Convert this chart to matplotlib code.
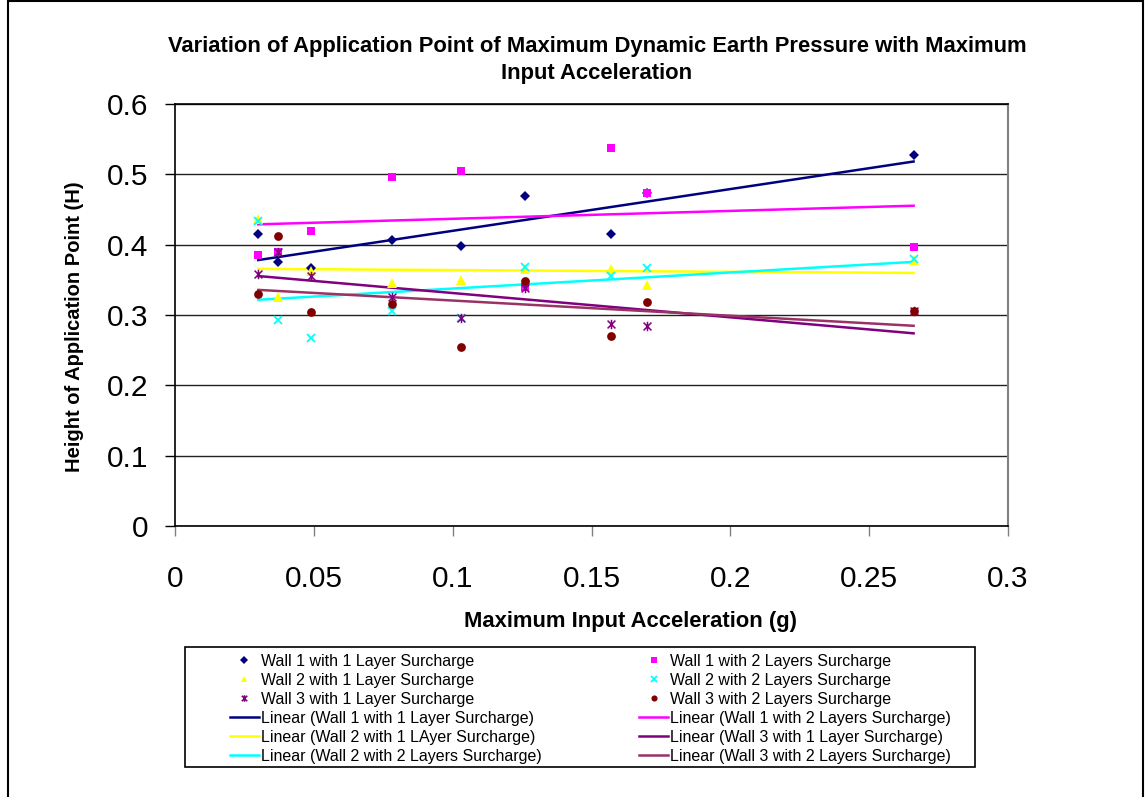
import numpy as np
import matplotlib
matplotlib.use("Agg")
import matplotlib.pyplot as plt
from matplotlib.patches import Rectangle
from matplotlib.path import Path

plt.rcParams['font.family'] = ['Liberation Sans', 'DejaVu Sans']

# Maximum input acceleration (g) shared by every test series
accel = [0.030, 0.037, 0.049, 0.078, 0.103, 0.126, 0.157, 0.170, 0.266]

# Height of application point (fraction of H)
wall1_1layer = [0.415, 0.375, 0.367, 0.406, 0.398, 0.469, 0.415, 0.474, 0.527]
wall1_2layer = [0.385, 0.390, 0.420, 0.496, 0.505, 0.340, 0.538, 0.474, 0.396]
wall2_1layer = [0.436, 0.326, 0.362, 0.346, 0.350, 0.365, 0.366, 0.343, 0.378]
wall2_2layer = [0.433, 0.293, 0.268, 0.305, 0.296, 0.368, 0.356, 0.367, 0.379]
wall3_1layer = [0.359, 0.390, 0.355, 0.326, 0.296, 0.338, 0.287, 0.284, 0.306]
wall3_2layer = [0.330, 0.413, 0.304, 0.315, 0.255, 0.349, 0.270, 0.318, 0.306]

x_ticks = [0, 0.05, 0.1, 0.15, 0.2, 0.25, 0.3]
x_tick_labels = ["0", "0.05", "0.1", "0.15", "0.2", "0.25", "0.3"]
y_ticks = [0, 0.1, 0.2, 0.3, 0.4, 0.5, 0.6]
y_tick_labels = ["0", "0.1", "0.2", "0.3", "0.4", "0.5", "0.6"]

W, H = 1146, 797
fig = plt.figure(figsize=(W / 100, H / 100), dpi=100)

def fx(px):
    return px / W

def fy(py):
    return 1 - py / H

# outer chart frame
fig.patches.append(Rectangle((fx(8), fy(900)), fx(1143) - fx(8), fy(1) - fy(900),
                             transform=fig.transFigure, fill=False,
                             edgecolor='black', linewidth=1.5, zorder=0))

ax = fig.add_axes([fx(175), fy(526), fx(1008) - fx(175), fy(104) - fy(526)])

# star marker: an "x" crossed by a vertical bar
star = Path([(-1, -1), (1, 1), (-1, 1), (1, -1), (0, -1.2), (0, 1.2)],
            [Path.MOVETO, Path.LINETO, Path.MOVETO, Path.LINETO, Path.MOVETO, Path.LINETO])

series = [
    ("Wall 1 with 1 Layer Surcharge", wall1_1layer, dict(marker='D', color='#000080', ms=5.3),
     "Linear (Wall 1 with 1 Layer Surcharge)", '#000080'),
    ("Wall 1 with 2 Layers Surcharge", wall1_2layer, dict(marker='s', color='#FF00FF', ms=5.8),
     "Linear (Wall 1 with 2 Layers Surcharge)", '#FF00FF'),
    ("Wall 2 with 1 Layer Surcharge", wall2_1layer, dict(marker='^', color='#FFFF00', ms=7),
     "Linear (Wall 2 with 1 LAyer Surcharge)", '#FFFF00'),
    ("Wall 2 with 2 Layers Surcharge", wall2_2layer, dict(marker='x', color='#00FFFF', ms=6.3, mew=1.3),
     "Linear (Wall 2 with 2 Layers Surcharge)", '#00FFFF'),
    ("Wall 3 with 1 Layer Surcharge", wall3_1layer, dict(marker=star, color='#800080', ms=6.8, mew=1.1),
     "Linear (Wall 3 with 1 Layer Surcharge)", '#800080'),
    ("Wall 3 with 2 Layers Surcharge", wall3_2layer, dict(marker='o', color='#800000', ms=6.3),
     "Linear (Wall 3 with 2 Layers Surcharge)", '#993366'),
]

x = np.array(accel)
xfit = np.array([x.min(), x.max()])
pt_handles = {}
ln_handles = {}
for name, vals, mk, lname, lcol in series:
    y = np.array(vals)
    slope, icpt = np.polyfit(x, y, 1)
    ln, = ax.plot(xfit, slope * xfit + icpt, color=lcol, lw=1.8, zorder=3, label=lname)
    ln_handles[lname] = ln
for name, vals, mk, lname, lcol in series:
    mk = dict(mk)
    color = mk.pop('color')
    ms = mk.pop('ms')
    mew = mk.pop('mew', None)
    if mew is not None:
        sc, = ax.plot(accel, vals, linestyle='none', color=color, ms=ms, mew=mew,
                      zorder=4, label=name, **mk)
    else:
        sc, = ax.plot(accel, vals, linestyle='none', color=color, mec=color, mew=0, ms=ms,
                      zorder=4, label=name, **mk)
    pt_handles[name] = sc

ax.set_xlim(0, 0.3)
ax.set_ylim(0, 0.6)
ax.set_xticks(x_ticks)
ax.set_xticklabels(x_tick_labels)
ax.set_yticks(y_ticks)
ax.set_yticklabels(y_tick_labels)
ax.tick_params(axis='both', direction='out', length=7, width=1, labelsize=21.5, colors='black')
ax.tick_params(axis='x', pad=21, color='#808080')
ax.tick_params(axis='y', pad=12)
ax.yaxis.grid(True, color='#222222', lw=1)
ax.set_axisbelow(True)
for side in ('left', 'bottom', 'top'):
    ax.spines[side].set_color('black')
    ax.spines[side].set_linewidth(1.2)
ax.spines['right'].set_color('#808080')
ax.spines['right'].set_linewidth(1.5)

fig.text(fx(597), fy(60), "Variation of Application Point of Maximum Dynamic Earth Pressure with Maximum\nInput Acceleration",
         ha='center', va='center', fontsize=15.8, fontweight='bold', linespacing=1.42)
fig.text(fx(631), fy(621), "Maximum Input Acceleration (g)", ha='center', va='center',
         fontsize=15.8, fontweight='bold')
fig.text(fx(75), fy(327), "Height of Application Point (H)", ha='center', va='center',
         rotation=90, fontsize=14.5, fontweight='bold')

# legend box
fig.patches.append(Rectangle((fx(185), fy(767)), fx(975) - fx(185), fy(647) - fy(767),
                             transform=fig.transFigure, fill=False,
                             edgecolor='black', linewidth=1.2, zorder=5))

col1 = [pt_handles["Wall 1 with 1 Layer Surcharge"], pt_handles["Wall 2 with 1 Layer Surcharge"],
        pt_handles["Wall 3 with 1 Layer Surcharge"], ln_handles["Linear (Wall 1 with 1 Layer Surcharge)"],
        ln_handles["Linear (Wall 2 with 1 LAyer Surcharge)"], ln_handles["Linear (Wall 2 with 2 Layers Surcharge)"]]
col2 = [pt_handles["Wall 1 with 2 Layers Surcharge"], pt_handles["Wall 2 with 2 Layers Surcharge"],
        pt_handles["Wall 3 with 2 Layers Surcharge"], ln_handles["Linear (Wall 1 with 2 Layers Surcharge)"],
        ln_handles["Linear (Wall 3 with 1 Layer Surcharge)"], ln_handles["Linear (Wall 3 with 2 Layers Surcharge)"]]
handles = col1 + col2
labels = [h.get_label() for h in handles]
leg = fig.legend(handles, labels, ncol=2, loc='upper left',
                 bbox_to_anchor=(fx(230), fy(654)), frameon=False, fontsize=11.5,
                 handlelength=1.8, handletextpad=0.15, columnspacing=6.1,
                 labelspacing=0.25, markerscale=0.7, borderpad=0, borderaxespad=0)

fig.savefig("out.png", dpi=100)
